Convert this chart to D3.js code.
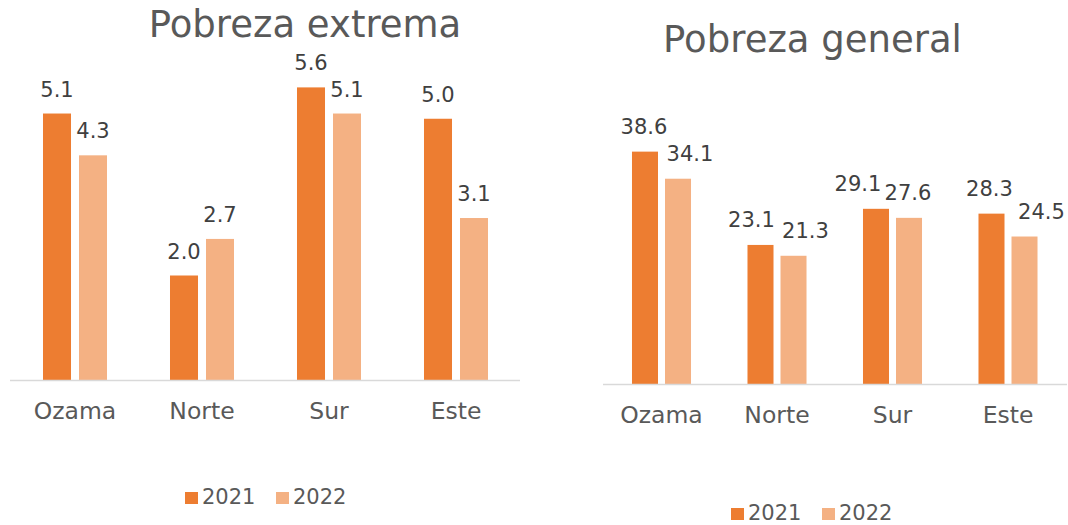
<!DOCTYPE html>
<html>
<head>
<meta charset="utf-8">
<script src="https://cdn.jsdelivr.net/npm/d3@7"></script>
<style>
  html, body { margin: 0; padding: 0; background: #fff; }
  svg { display: block; font-family: 'DejaVu Sans', sans-serif; }
</style>
</head>
<body>
<div id="chart"></div>
<script>
var regions = ['Ozama', 'Norte', 'Sur', 'Este'];
var years = ['2021', '2022'];
var extrema2021 = [5.1, 2.0, 5.6, 5.0];
var extrema2022 = [4.3, 2.7, 5.1, 3.1];
var general2021 = [38.6, 23.1, 29.1, 28.3];
var general2022 = [34.1, 21.3, 27.6, 24.5];

var colors = d3.scaleOrdinal().domain(years).range(['#ED7D31', '#F4B183']);
var fmt = d3.format('.1f');

var width = 1068, height = 525;

var svg = d3.select('#chart').append('svg')
    .attr('width', width)
    .attr('height', height);

function drawChart(cfg) {
  var rows = regions.map(function(r, i) {
    return { region: r, values: [cfg.series[0][i], cfg.series[1][i]] };
  });

  var x0 = d3.scaleBand()
    .domain(regions)
    .range(cfg.xRange)
    .paddingInner(cfg.outerPad)
    .paddingOuter(cfg.outerPad / 2);

  var x1 = d3.scaleBand()
    .domain(years)
    .range([0, x0.bandwidth()])
    .paddingInner(cfg.innerPad);

  var y = d3.scaleLinear()
    .domain(cfg.yDomain)
    .range([cfg.baseline, cfg.top]);

  var g = svg.append('g');

  // title
  g.append('text')
    .attr('x', cfg.titleX)
    .attr('y', cfg.titleY)
    .attr('text-anchor', 'middle')
    .style('font-size', '37px')
    .style('fill', '#595959')
    .text(cfg.title);

  var groups = g.selectAll('g.region')
    .data(rows)
    .enter().append('g')
    .attr('class', 'region')
    .attr('transform', function(d) { return 'translate(' + x0(d.region) + ',0)'; });

  groups.selectAll('rect')
    .data(function(d) { return d.values.map(function(v, j) { return { year: years[j], value: v }; }); })
    .enter().append('rect')
    .attr('x', function(d) { return x1(d.year); })
    .attr('y', function(d) { return y(d.value); })
    .attr('width', x1.bandwidth())
    .attr('height', function(d) { return y(0) - y(d.value); })
    .style('fill', function(d) { return colors(d.year); });

  // value labels, with the small sideways nudges of the original
  groups.each(function(d, i) {
    d3.select(this).selectAll('text.val')
      .data(d.values)
      .enter().append('text')
      .attr('class', 'val')
      .attr('x', function(v, j) { return x1(years[j]) + x1.bandwidth() / 2 + cfg.nudge[j][i]; })
      .attr('y', function(v) { return y(v) - cfg.labelGap; })
      .attr('text-anchor', 'middle')
      .style('font-size', '21px')
      .style('fill', '#404040')
      .text(function(v) { return fmt(v); });
  });

  // baseline axis
  var axis = d3.axisBottom(x0).tickSize(0).tickPadding(cfg.tickPad);
  var ax = g.append('g')
    .attr('transform', 'translate(0,' + cfg.baseline + ')')
    .call(axis);
  ax.select('.domain')
    .attr('d', 'M' + cfg.axisExtent[0] + ',0.5H' + cfg.axisExtent[1])
    .style('stroke', '#D9D9D9')
    .style('stroke-width', 1.5);
  ax.selectAll('text')
    .attr('dy', 0)
    .style('font-family', "'DejaVu Sans', sans-serif")
    .style('font-size', '23.5px')
    .style('fill', '#595959');

  // legend
  var leg = g.append('g')
    .attr('transform', 'translate(' + cfg.legendX + ',' + cfg.legendY + ')');
  var item = leg.selectAll('g')
    .data(years)
    .enter().append('g')
    .attr('transform', function(d, i) { return 'translate(' + i * 91 + ',0)'; });
  item.append('rect')
    .attr('x', 0)
    .attr('y', -12)
    .attr('width', 13)
    .attr('height', 12)
    .style('fill', function(d) { return colors(d); });
  item.append('text')
    .attr('x', 17)
    .attr('y', 0)
    .style('font-size', '21px')
    .style('fill', '#595959')
    .text(function(d) { return d; });
}

drawChart({
  title: 'Pobreza extrema',
  titleX: 305, titleY: 37,
  series: [extrema2021, extrema2022],
  xRange: [11.5, 519.5],
  outerPad: 0.496, innerPad: 0.222,
  yDomain: [0, 6], baseline: 380, top: 66.5,
  labelGap: 17,
  nudge: [[0, 0, 0, 0], [0, 0, 0, 0]],
  axisExtent: [10, 520],
  tickPad: 39,
  legendX: 185, legendY: 504
});

drawChart({
  title: 'Pobreza general',
  titleX: 812.5, titleY: 52,
  series: [general2021, general2022],
  xRange: [603.75, 1065.75],
  outerPad: 0.489, innerPad: 0.212,
  yDomain: [0, 45], baseline: 384, top: 113.1,
  labelGap: 18,
  nudge: [[-1, -9, -18, -2], [12, 12, -1, 17]],
  axisExtent: [603, 1067],
  tickPad: 39,
  legendX: 731, legendY: 520
});
</script>
</body>
</html>
